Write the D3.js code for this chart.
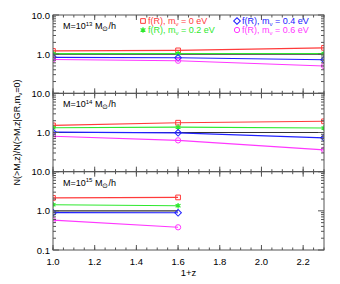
<!DOCTYPE html>
<html>
<head>
<meta charset="utf-8">
<script src="https://cdn.jsdelivr.net/npm/d3@7"></script>
<style>
  body { margin: 0; background: #fff; }
  text { font-family: "Liberation Sans", Arial, sans-serif; }
</style>
</head>
<body>
<div id="chart"></div>
<script>
// redshift values (1+z)
const zAll = [1.0, 1.6, 2.3];
const zShort = [1.0, 1.6];

// panel halo masses (exponent of 10)
const massExp = [13, 14, 15];

// series: f(R) with different neutrino masses
const seriesNames = ["0", "0.2", "0.4", "0.6"];
const seriesColors = ["#ff3b3b", "#2ee82e", "#2020ff", "#ff38ff"];
const seriesSymbols = ["square", "star", "diamond", "circle"];

// ratios per panel, per series
const panel13 = [[1.21, 1.25, 1.45], [1.03, 1.04, 1.04], [0.83, 0.81, 0.72], [0.73, 0.68, 0.50]];
const panel14 = [[1.52, 1.78, 1.93], [1.32, 1.37, 1.30], [1.02, 0.98, 0.73], [0.80, 0.63, 0.36]];
const panel15 = [[2.14, 2.2], [1.43, 1.35], [0.90, 0.89], [0.58, 0.38]];
const panelValues = [panel13, panel14, panel15];
const panelZ = [zAll, zAll, zShort];

const yTickLabels = [10, 1, 0.1];

const width = 340, height = 284;
const marginLeft = 53, marginRight = 16, marginTop = 15, marginBottom = 34;
const panelH = (height - marginTop - marginBottom) / 3;

const x = d3.scaleLinear().domain([1.0, 2.3]).range([marginLeft, width - marginRight]);

const svg = d3.create("svg").attr("width", width).attr("height", height);
const axisColor = "#555";

svg.append("defs").selectAll("clipPath")
  .data(massExp)
  .join("clipPath")
    .attr("id", (d, i) => "clip" + i)
  .append("rect")
    .attr("x", marginLeft)
    .attr("y", (d, i) => marginTop + i * panelH)
    .attr("width", width - marginLeft - marginRight)
    .attr("height", panelH);

const symbolGen = d3.symbol().size(22);
function drawMarker(g, type, color, cx, cy) {
  if (type === "star") {
    g.append("path")
      .attr("d", d3.symbol(d3.symbolAsterisk, 22)())
      .attr("transform", `translate(${cx},${cy})`)
      .attr("stroke", color).attr("stroke-width", 1.2).attr("fill", "none");
    g.append("circle").attr("cx", cx).attr("cy", cy).attr("r", 1.4).attr("fill", color);
    return;
  }
  // diamond = square turned by 45 degrees (IDL style)
  const t = type === "circle" ? d3.symbolCircle : d3.symbolSquare;
  const rot = type === "diamond" ? " rotate(45)" : "";
  g.append("path")
    .attr("d", symbolGen.type(t)())
    .attr("transform", `translate(${cx},${cy})${rot}`)
    .attr("fill", "none").attr("stroke", color).attr("stroke-width", 1);
}

massExp.forEach((m, p) => {
  const top = marginTop + p * panelH;
  const bottom = top + panelH;
  const y = d3.scaleLog().domain([0.1, 10]).range([bottom, top]);
  const g = svg.append("g");

  // reference GR line
  const data = panelZ[p];
  const plot = g.append("g").attr("clip-path", `url(#clip${p})`);
  plot.append("line")
    .attr("x1", x(data[0])).attr("x2", x(data[data.length - 1]))
    .attr("y1", y(1)).attr("y2", y(1))
    .attr("stroke", "#333").attr("stroke-width", 1.2);

  const line = d3.line().x((d, i) => x(data[i])).y(d => y(d));
  panelValues[p].forEach((vals, s) => {
    plot.append("path")
      .attr("d", line(vals))
      .attr("fill", "none")
      .attr("stroke", seriesColors[s])
      .attr("stroke-width", 1.1);
    vals.forEach((v, i) => drawMarker(plot, seriesSymbols[s], seriesColors[s], x(data[i]), y(v)));
  });

  // y ticks (left + right), log minor ticks
  const minor = [];
  [0.1, 1].forEach(dec => { for (let k = 2; k <= 9; k++) minor.push(dec * k); });
  [[marginLeft, 1], [width - marginRight, -1]].forEach(([xp, dir]) => {
    g.append("g").selectAll("line").data(yTickLabels).join("line")
      .attr("x1", xp).attr("x2", xp + dir * 6)
      .attr("y1", d => y(d)).attr("y2", d => y(d))
      .attr("stroke", axisColor);
    g.append("g").selectAll("line").data(minor).join("line")
      .attr("x1", xp).attr("x2", xp + dir * 3)
      .attr("y1", d => y(d)).attr("y2", d => y(d))
      .attr("stroke", axisColor);
  });

  // x ticks top + bottom of each panel
  const xMajor = d3.range(1.0, 2.31, 0.2);
  const xMinor = d3.range(1.0, 2.31, 0.05);
  [[bottom, -1], [top, 1]].forEach(([yp, dir]) => {
    g.append("g").selectAll("line").data(xMinor).join("line")
      .attr("x1", d => x(d)).attr("x2", d => x(d))
      .attr("y1", yp).attr("y2", yp + dir * 2.5)
      .attr("stroke", axisColor);
    g.append("g").selectAll("line").data(xMajor).join("line")
      .attr("x1", d => x(d)).attr("x2", d => x(d))
      .attr("y1", yp).attr("y2", yp + dir * 5)
      .attr("stroke", axisColor);
  });

  // frame
  g.append("rect")
    .attr("x", marginLeft).attr("y", top)
    .attr("width", width - marginLeft - marginRight).attr("height", panelH)
    .attr("fill", "none").attr("stroke", axisColor).attr("stroke-width", 1);

  // y tick labels
  const labels = p === 2 ? yTickLabels : yTickLabels.slice(0, 2);
  g.append("g").selectAll("text").data(labels).join("text")
    .attr("x", marginLeft - 3)
    .attr("y", d => y(d) + 3.5)
    .attr("text-anchor", "end")
    .attr("font-size", 9.5)
    .text(d => d3.format(".1f")(d));

  // panel label
  const lab = g.append("text").attr("x", 63).attr("y", top + 14).attr("font-size", 9);
  lab.append("tspan").text("M=10");
  lab.append("tspan").attr("font-size", 6).attr("dy", -3.5).text(m);
  lab.append("tspan").attr("dy", 3.5).text(" M");
  lab.append("tspan").attr("font-size", 7).attr("dy", 2).text("\u2299");
  lab.append("tspan").attr("dy", -2).text("/h");
});

// legend (top panel)
const legendPos = [[143, 24], [143, 33], [237, 24], [237, 33]];
seriesNames.forEach((name, s) => {
  const [lx, ly] = legendPos[s];
  const lg = svg.append("g");
  drawMarker(lg, seriesSymbols[s], seriesColors[s], lx, ly - 3);
  const t = lg.append("text").attr("x", lx + 5).attr("y", ly)
    .attr("font-size", 9).attr("fill", seriesColors[s]);
  t.append("tspan").text("f(R), m");
  t.append("tspan").attr("font-size", 6).attr("dy", 2).text("\u03bd");
  t.append("tspan").attr("dy", -2).text(" = " + name + " eV");
});

// x tick labels
svg.append("g").selectAll("text").data(d3.range(1.0, 2.21, 0.2)).join("text")
  .attr("x", d => x(d))
  .attr("y", height - marginBottom + 15)
  .attr("text-anchor", "middle")
  .attr("font-size", 9.5)
  .text(d => d3.format(".1f")(d));

svg.append("text")
  .attr("x", (marginLeft + width - marginRight) / 2)
  .attr("y", height - 8)
  .attr("text-anchor", "middle")
  .attr("font-size", 9.5)
  .text("1+z");

// y title
const yt = svg.append("text")
  .attr("transform", `translate(20,${marginTop + 1.5 * panelH}) rotate(-90)`)
  .attr("text-anchor", "middle")
  .attr("font-size", 9);
yt.append("tspan").text("N(>M,z)/N(>M,z|GR,m");
yt.append("tspan").attr("font-size", 6).attr("dy", 2).text("\u03bd");
yt.append("tspan").attr("dy", -2).text("=0)");

document.getElementById("chart").append(svg.node());
</script>
</body>
</html>
